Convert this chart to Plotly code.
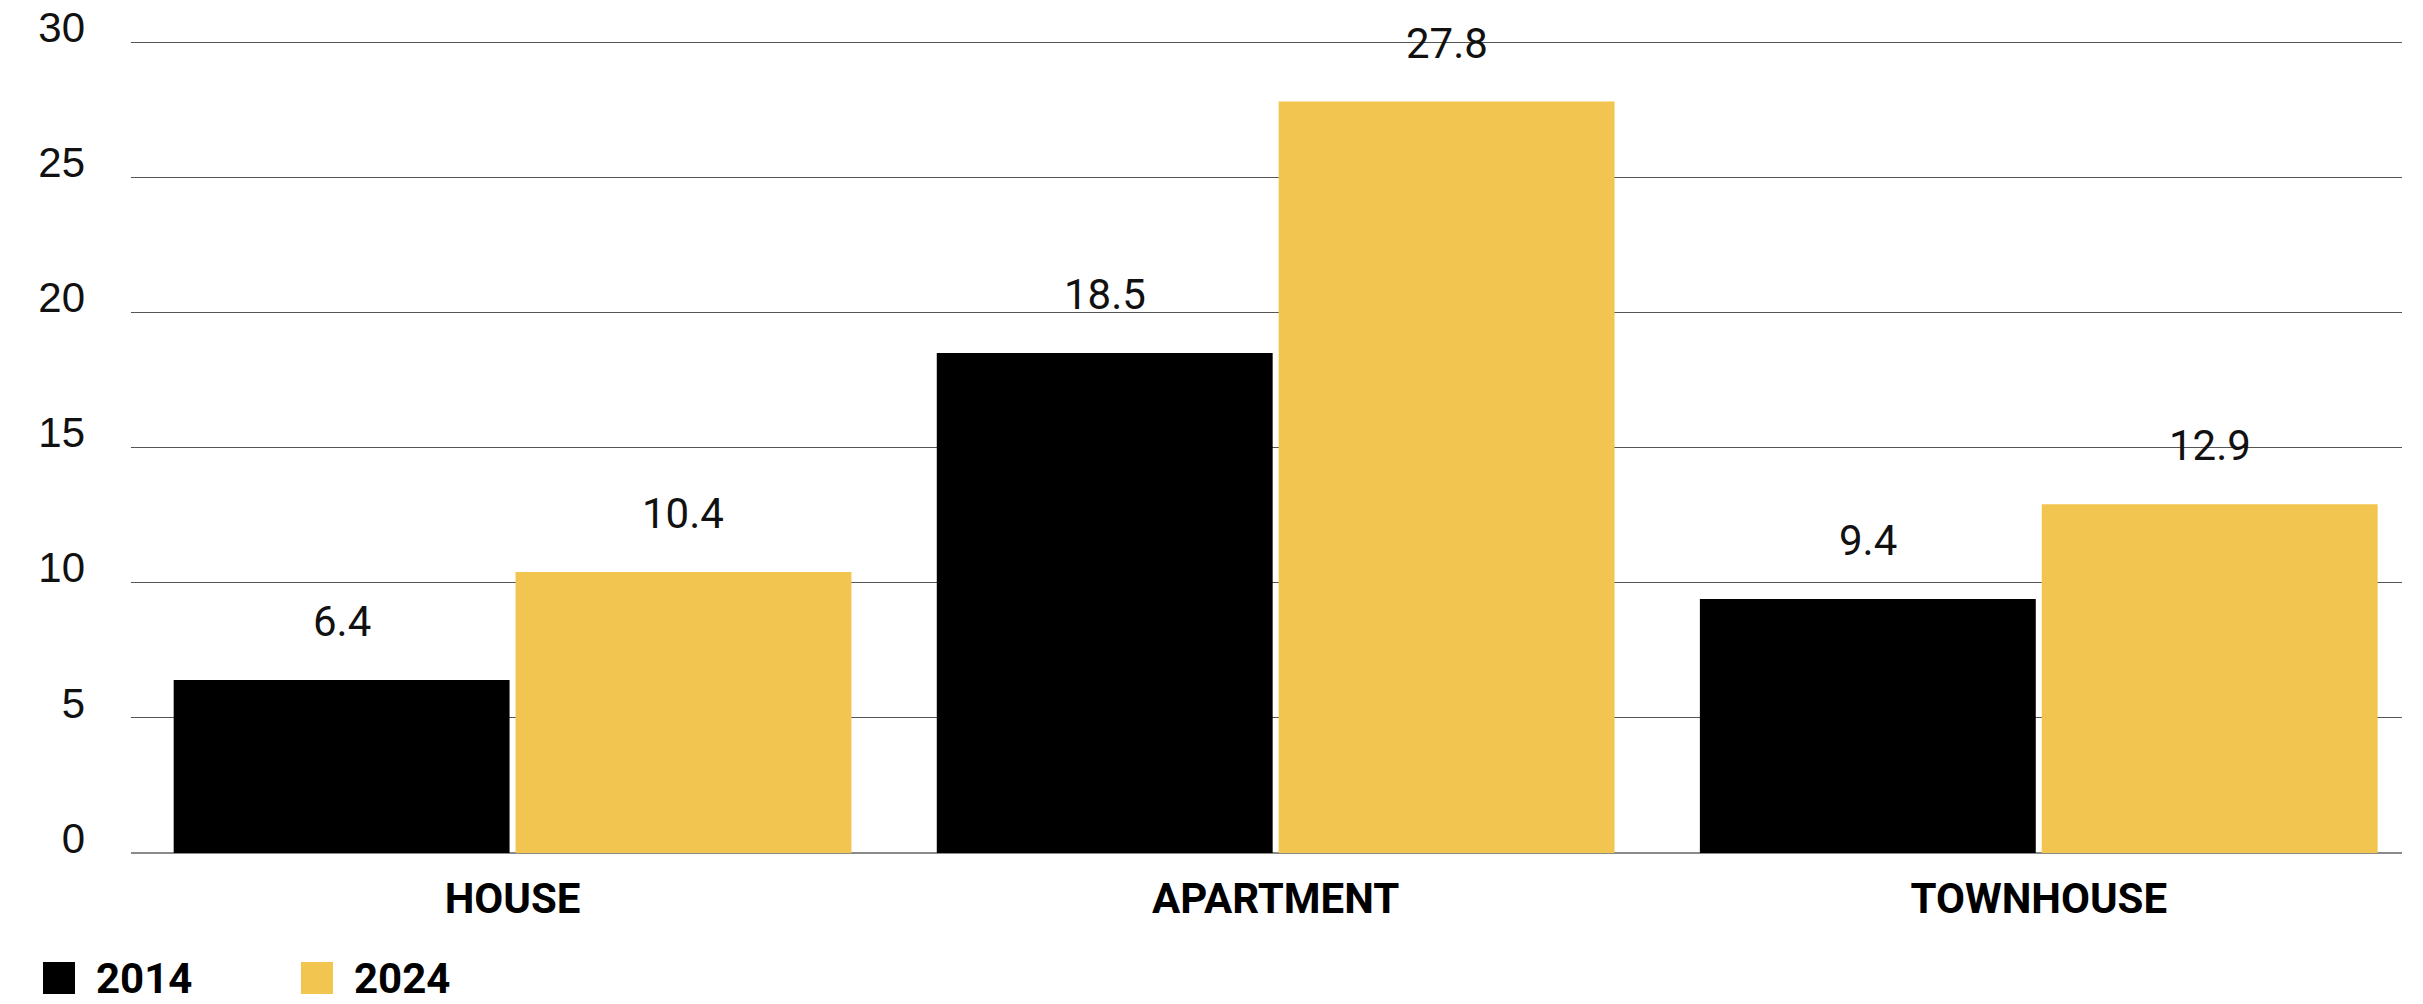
import plotly.graph_objects as go

# Dwelling types and values per survey year
categories = ["HOUSE", "APARTMENT", "TOWNHOUSE"]
years = ["2014", "2024"]
values_2014 = [6.4, 18.5, 9.4]
values_2024 = [10.4, 27.8, 12.9]
y_ticks = [0, 5, 10, 15, 20, 25, 30]

colors = {"2014": "#000000", "2024": "#F1C54F"}

W, H = 2423, 1004
M_L, M_R, M_T, M_B = 131, 21, 34, 151
plot_w = W - M_L - M_R
plot_h = H - M_T - M_B
x_range = [-0.5, 2.476]
cat_px = plot_w / (x_range[1] - x_range[0])

fig = go.Figure()
for year, vals in zip(years, [values_2014, values_2024]):
    fig.add_trace(go.Bar(
        x=categories, y=vals, name=year,
        marker=dict(color=colors[year], line=dict(width=0)),
        showlegend=False,
    ))

# Value labels above each bar
bargap = 0.104
group_w = cat_px * (1 - bargap)
half_slot = group_w / 4
for i, (year, vals) in enumerate(zip(years, [values_2014, values_2024])):
    shift = -half_slot if i == 0 else half_slot
    for cat, v in zip(categories, vals):
        fig.add_annotation(
            x=cat, y=v, xref="x", yref="y",
            text=f"{v:.1f}", showarrow=False,
            xanchor="center", yanchor="bottom",
            xshift=shift, yshift=32,
            font=dict(family="Roboto, Arial, sans-serif", size=42, color="#111111"),
        )

# Legend drawn as squares with labels below the chart
legend_x = [43, 301]
sq_top, sq_size = 962, 32
base = H - M_B
for (year, lx) in zip(years, legend_x):
    fig.add_shape(
        type="rect", xref="paper", yref="paper",
        xsizemode="pixel", ysizemode="pixel",
        xanchor=0, yanchor=0,
        x0=lx - M_L, x1=lx - M_L + sq_size,
        y0=-(sq_top + sq_size - base), y1=-(sq_top - base),
        fillcolor=colors[year], line=dict(width=0),
    )
    fig.add_annotation(
        xref="paper", yref="paper",
        x=(lx + 51 - M_L) / plot_w, y=-(sq_top + sq_size / 2 - base) / plot_h,
        text=f"<b>{year}</b>", showarrow=False,
        xanchor="left", yanchor="middle", height=40, valign="middle",
        font=dict(family="Roboto, Arial, sans-serif", size=42, color="#000000"),
    )

fig.update_layout(
    width=W, height=H,
    margin=dict(l=M_L, r=M_R, t=M_T, b=M_B, pad=0),
    paper_bgcolor="white", plot_bgcolor="white",
    barmode="group", bargap=bargap, bargroupgap=0.0175,
    showlegend=False,
    xaxis=dict(
        range=x_range, automargin=False,
        showgrid=False, showline=False, ticks="",
        tickfont=dict(family="Roboto, Arial, sans-serif", size=42, color="#000000", weight="bold"),
        ticklabelstandoff=17,
    ),
    yaxis=dict(
        range=[0, 30.3], tickvals=y_ticks, ticktext=[str(t) for t in y_ticks],
        automargin=False,
        showgrid=True, gridcolor="#555555", gridwidth=1,
        zeroline=True, zerolinecolor="#8a8a8a", zerolinewidth=2,
        showline=False, ticks="",
        tickfont=dict(family="Liberation Sans, Arial, sans-serif", size=42, color="#111111"),
        ticklabelstandoff=45, ticklabelshift=-15,
    ),
)

fig.write_html("out.html")
